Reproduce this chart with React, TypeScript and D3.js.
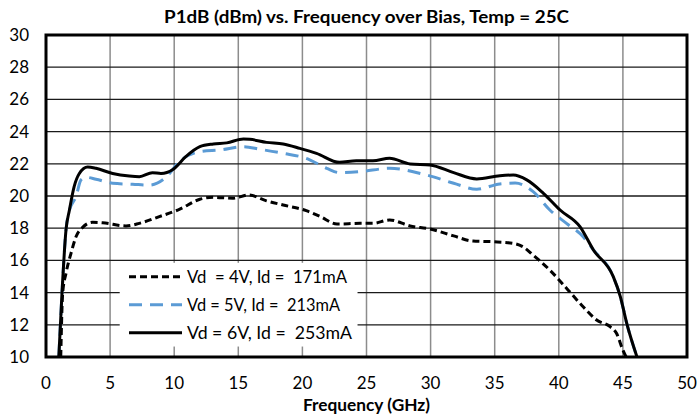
import * as d3 from "d3";
import React from "react";

// frequency (GHz) / P1dB (dBm)
const freq4V = [1.15, 1.3, 1.56, 1.95, 2.34, 2.86, 3.64, 4.42, 6.24, 7.28, 8.84, 10.4, 12.0, 13.05, 14.6, 15.8, 17.2, 18.5, 20.3, 21.4, 22.7, 24.5, 25.5, 26.8, 28.4, 29.95, 31.8, 33.3, 34.9, 36.45, 37.2, 38.0, 39.3, 40.6, 41.9, 42.95, 44.0, 44.5, 45.0, 45.25];
const p1db4V = [10.0, 13.96, 15.2, 16.44, 17.47, 18.05, 18.37, 18.34, 18.14, 18.3, 18.72, 19.17, 19.8, 19.92, 19.86, 20.06, 19.7, 19.44, 19.09, 18.72, 18.26, 18.3, 18.3, 18.51, 18.14, 17.95, 17.52, 17.2, 17.16, 17.06, 16.85, 16.33, 15.4, 14.27, 13.12, 12.3, 11.88, 11.47, 10.43, 10.0];

const freq5V = [1.0, 1.25, 1.56, 1.82, 2.34, 2.73, 3.12, 3.9, 5.2, 6.76, 8.06, 9.36, 10.4, 12.0, 13.6, 15.4, 16.7, 18.5, 20.3, 21.9, 22.9, 24.5, 26.8, 29.7, 31.8, 33.6, 35.4, 36.6, 38.0, 39.3, 40.6, 41.9, 42.7, 44.25, 44.8, 45.3, 46.1];
const p1db5V = [10.0, 14.0, 17.9, 19.1, 19.96, 21.0, 21.16, 21.04, 20.79, 20.73, 20.68, 21.16, 22.13, 22.75, 22.86, 23.06, 22.9, 22.65, 22.34, 21.72, 21.45, 21.51, 21.72, 21.3, 20.79, 20.42, 20.75, 20.8, 20.27, 19.13, 18.3, 17.47, 16.65, 14.99, 13.75, 12.09, 10.0];

const freq6V = [1.0, 1.25, 1.56, 1.82, 2.2, 2.6, 3.25, 3.9, 5.2, 6.5, 7.28, 8.3, 8.97, 9.9, 10.9, 12.0, 13.05, 14.1, 15.4, 15.9, 17.2, 18.5, 19.8, 21.1, 22.9, 24.2, 25.5, 26.8, 28.4, 29.95, 31.8, 33.6, 35.4, 36.45, 37.5, 38.8, 40.1, 41.65, 42.7, 44.25, 44.8, 45.3, 46.1];
const p1db6V = [10.0, 14.0, 17.9, 19.1, 20.6, 21.4, 21.8, 21.72, 21.4, 21.24, 21.2, 21.45, 21.4, 21.65, 22.44, 23.06, 23.23, 23.3, 23.54, 23.52, 23.33, 23.23, 22.96, 22.65, 22.09, 22.19, 22.19, 22.34, 21.99, 21.93, 21.45, 21.06, 21.26, 21.3, 21.0, 20.17, 19.13, 18.1, 16.65, 14.99, 13.75, 12.09, 10.0];

const xTicks = [0, 5, 10, 15, 20, 25, 30, 35, 40, 45, 50];
const yTicks = [10, 12, 14, 16, 18, 20, 22, 24, 26, 28, 30];

const seriesNames = ["Vd  = 4V, Id =  171mA", "Vd = 5V, Id =  213mA", "Vd = 6V, Id =  253mA"];

const W = 698;
const H = 417;
const margin = { top: 35, right: 11, bottom: 60, left: 46 };
const font = "Lato, 'Open Sans', sans-serif";

export default function App() {
  const x = d3.scaleLinear().domain([0, 50]).range([margin.left, W - margin.right]);
  const y = d3.scaleLinear().domain([10, 30]).range([H - margin.bottom, margin.top]);

  const line = d3
    .line<[number, number]>()
    .x((d) => x(d[0]))
    .y((d) => y(d[1]))
    .curve(d3.curveMonotoneX);

  const zip = (f: number[], p: number[]) => f.map((v, i) => [v, p[i]] as [number, number]);

  const series = [
    { name: seriesNames[0], data: zip(freq4V, p1db4V), color: "#000", dash: "7,4", tl: 160 },
    { name: seriesNames[1], data: zip(freq5V, p1db5V), color: "#5B9BD5", dash: "13,8", tl: 153 },
    { name: seriesNames[2], data: zip(freq6V, p1db6V), color: "#000", dash: "none", tl: 165 },
  ];

  // legend box, in data units so it sits over the grid like the original
  const lgX0 = x(5.75);
  const lgX1 = x(24.3);
  const lgY0 = y(15.85);
  const lgY1 = y(10.65);

  return (
    <svg width={W} height={H} style={{ position: "absolute", left: 0, top: 0, background: "#fff" }}>
      <defs>
        <clipPath id="plot">
          <rect x={x(0)} y={y(30)} width={x(50) - x(0)} height={y(10) - y(30)} />
        </clipPath>
      </defs>

      {/* grid */}
      {xTicks.slice(1, -1).map((t) => (
        <line key={"vx" + t} x1={x(t)} x2={x(t)} y1={y(30)} y2={y(10)} stroke="#8c8c8c" strokeWidth={1.5} />
      ))}
      {yTicks.slice(1, -1).map((t) => (
        <line key={"hy" + t} x1={x(0)} x2={x(50)} y1={y(t)} y2={y(t)} stroke="#1a1a1a" strokeWidth={1.3} />
      ))}

      {/* legend background hides grid */}
      <rect x={lgX0} y={lgY0} width={lgX1 - lgX0} height={lgY1 - lgY0} fill="#fff" />

      <g clipPath="url(#plot)">
        {[series[1], series[0], series[2]].map((s) => (
          <path
            key={s.name}
            d={line(s.data) || ""}
            fill="none"
            stroke={s.color}
            strokeWidth={3}
            strokeDasharray={s.dash}
          />
        ))}
      </g>

      {/* legend */}
      {series.map((s, i) => {
        const cy = lgY0 + 14 + i * 28;
        return (
          <g key={"lg" + i}>
            <line x1={129} x2={182} y1={cy} y2={cy} stroke={s.color} strokeWidth={3} strokeDasharray={s.dash} />
            <text x={187} y={cy} dy="0.35em" fontFamily={font} fontSize={17} fill="#000"
              textLength={s.tl} lengthAdjust="spacingAndGlyphs" style={{ whiteSpace: "pre" }}>
              {s.name}
            </text>
          </g>
        );
      })}

      {/* frame */}
      <rect x={x(0)} y={y(30)} width={x(50) - x(0)} height={y(10) - y(30)} fill="none" stroke="#000" strokeWidth={3} />

      {/* axis labels */}
      {yTicks.map((t) => (
        <text key={"yl" + t} x={29} y={y(t)} dy="0.35em" textAnchor="end" fontFamily={font} fontSize={17} fill="#000">
          {t}
        </text>
      ))}
      {xTicks.map((t) => (
        <text key={"xl" + t} x={x(t)} y={383} dy="0.35em" textAnchor="middle" fontFamily={font} fontSize={17} fill="#000">
          {t}
        </text>
      ))}

      <text x={(x(0) + x(50)) / 2} y={405} dy="0.35em" textAnchor="middle" fontFamily={font} fontSize={17} fontWeight="bold" fill="#000"
        textLength={127} lengthAdjust="spacingAndGlyphs">
        Frequency (GHz)
      </text>
      <text x={(x(0) + x(50)) / 2} y={17} dy="0.35em" textAnchor="middle" fontFamily={font} fontSize={16.5} fontWeight="bold" fill="#000"
        textLength={405} lengthAdjust="spacingAndGlyphs">
        P1dB (dBm) vs. Frequency over Bias, Temp = 25C
      </text>
    </svg>
  );
}
